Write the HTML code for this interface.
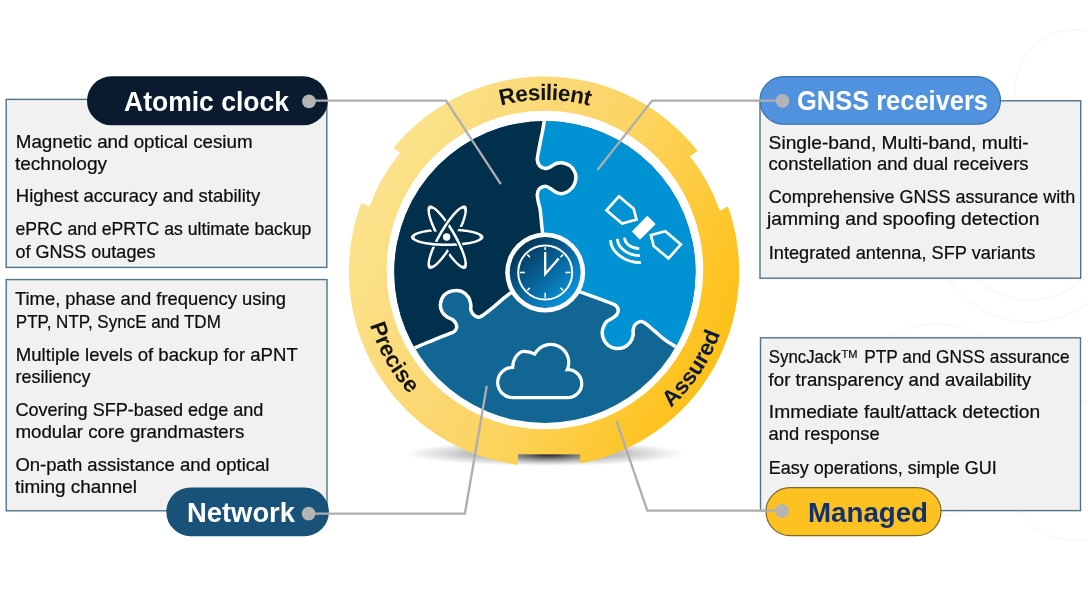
<!DOCTYPE html>
<html><head><meta charset="utf-8">
<style>
html,body{margin:0;padding:0;background:#fff;}
body{width:1088px;height:612px;overflow:hidden;font-family:"Liberation Sans",sans-serif;}
svg{display:block}
text{font-family:"Liberation Sans",sans-serif;}
svg{will-change:transform;}
.b{font-size:18.5px;fill:#0c0c0c;stroke:#0c0c0c;stroke-width:0.22px;}
.h{font-size:27.7px;font-weight:bold;fill:#fff;}
.r{font-size:22.5px;font-weight:bold;fill:#151515;}
</style></head><body>
<svg width="1088" height="612" viewBox="0 0 1088 612">
<defs>
<linearGradient id="gy" gradientUnits="userSpaceOnUse" x1="368.3" y1="188.5" x2="721.7" y2="353.5">
<stop offset="0" stop-color="#FBE28C"/><stop offset="0.082" stop-color="#FBE086"/><stop offset="0.43" stop-color="#FBD66E"/><stop offset="0.59" stop-color="#FCD35C"/><stop offset="0.905" stop-color="#FDC424"/><stop offset="1" stop-color="#FDC019"/>
</linearGradient>
<linearGradient id="gc" gradientUnits="userSpaceOnUse" x1="522" y1="249" x2="568" y2="296">
<stop offset="0" stop-color="#04385B"/><stop offset="1" stop-color="#0A8FD6"/>
</linearGradient>
<radialGradient id="gs" cx="0.5" cy="0.5" r="0.5">
<stop offset="0" stop-color="#000" stop-opacity="0.45"/><stop offset="0.55" stop-color="#000" stop-opacity="0.24"/><stop offset="0.8" stop-color="#000" stop-opacity="0.1"/><stop offset="1" stop-color="#000" stop-opacity="0"/>
</radialGradient>
<radialGradient id="gn" cx="0.5" cy="0.5" r="0.5">
<stop offset="0" stop-color="#111" stop-opacity="0.92"/><stop offset="0.22" stop-color="#2a2a2a" stop-opacity="0.72"/><stop offset="0.5" stop-color="#555" stop-opacity="0.4"/><stop offset="0.8" stop-color="#888" stop-opacity="0.12"/><stop offset="1" stop-color="#999" stop-opacity="0"/>
</radialGradient>
<clipPath id="disc"><ellipse cx="544.9" cy="272" rx="150.6" ry="151"/></clipPath>
<path id="ptop" d="M 374 271 A 171 171 0 0 1 716 271"/>
<path id="pbot" d="M 361.8 271 A 183.2 183.2 0 0 0 728.2 271"/>
<path id="pbot2" d="M 359 271 A 186 186 0 0 0 731 271"/>
</defs>
<rect width="1088" height="612" fill="#fff"/>
<g fill="none" stroke="#F8F8F8" stroke-width="1.6"><circle cx="1030" cy="222" r="100"/><circle cx="1030" cy="222" r="78"/><circle cx="936" cy="420" r="96"/><circle cx="1075" cy="90" r="60"/><circle cx="1075" cy="470" r="70"/></g>
<g fill="#F1F1F1" stroke="#4F7389" stroke-width="1.4">
<rect x="6.2" y="99.4" width="320.6" height="168"/>
<rect x="6.2" y="279.6" width="320.8" height="231.2"/>
<rect x="760" y="100.8" width="320.7" height="177.4"/>
<rect x="760.5" y="337.8" width="320" height="172.8"/>
</g>
<ellipse cx="545" cy="453.5" rx="140" ry="12.5" fill="url(#gs)"/>
<clipPath id="nc"><rect x="517.9" y="454.2" width="62.2" height="16"/></clipPath>
<ellipse cx="549" cy="454.2" rx="66" ry="11" fill="url(#gn)" clip-path="url(#nc)"/>
<path fill="url(#gy)" d="M 517.90 464.92 A 195.1 195.1 0 0 1 361.3 203 L 369.5 206.6 A 184 184 0 0 1 400.2 152.8 L 393.5 147.9 A 195.1 195.1 0 0 1 697.8 151.1 L 689.9 156.3 A 184 184 0 0 1 719.8 210.7 L 728 206.6 A 195.1 195.1 0 0 1 580.10 463.37 L 580.1 454.2 L 517.9 454.2 Z"/>
<ellipse cx="544.9" cy="270" rx="158.3" ry="159.3" fill="#fff"/>
<g clip-path="url(#disc)">
<rect x="390" y="115" width="312" height="314" fill="#116693"/>
<path fill="#00304B" d="M 544.6 110 L 380 110 L 380 351 L 407.00 351.00 C 408.50 350.38 413.00 348.55 416.00 347.30 C 419.00 346.05 421.22 345.08 425.00 343.50 C 428.78 341.92 434.42 339.52 438.70 337.80 C 442.98 336.08 448.12 334.25 450.70 333.20 C 453.28 332.15 453.23 332.35 454.20 331.50 C 455.17 330.65 456.18 329.33 456.50 328.10 C 456.82 326.87 456.68 325.45 456.10 324.10 C 455.52 322.75 454.47 321.15 453.00 320.00 C 451.53 318.85 449.10 318.53 447.30 317.20 C 445.50 315.87 443.35 314.10 442.20 312.00 C 441.05 309.90 440.12 307.37 440.40 304.60 C 440.68 301.83 441.88 297.68 443.90 295.40 C 445.92 293.12 449.55 291.57 452.50 290.90 C 455.45 290.23 458.93 290.35 461.60 291.40 C 464.27 292.45 466.97 295.00 468.50 297.20 C 470.03 299.40 470.42 302.52 470.80 304.60 C 471.18 306.68 470.42 308.08 470.80 309.70 C 471.18 311.32 471.87 313.05 473.10 314.30 C 474.33 315.55 476.48 317.10 478.20 317.20 C 479.92 317.30 480.82 316.62 483.40 314.90 C 485.98 313.18 490.10 309.85 493.70 306.90 C 497.30 303.95 501.45 300.02 505.00 297.20 C 508.55 294.38 508.33 294.37 515.00 290.00 C 521.67 285.63 540.00 274.17 545.00 271.00 L 545.00 271.00 C 544.83 266.67 544.47 251.83 544.00 245.00 C 543.53 238.17 542.83 235.83 542.20 230.00 C 541.57 224.17 540.82 214.52 540.20 210.00 C 539.58 205.48 538.98 205.52 538.50 202.90 C 538.02 200.28 537.12 196.68 537.30 194.30 C 537.48 191.92 538.27 189.93 539.60 188.60 C 540.93 187.27 543.48 186.30 545.30 186.30 C 547.12 186.30 548.78 187.63 550.50 188.60 C 552.22 189.57 553.70 191.23 555.60 192.10 C 557.50 192.97 559.70 194.00 561.90 193.80 C 564.10 193.60 566.80 192.33 568.80 190.90 C 570.80 189.47 572.72 187.38 573.90 185.20 C 575.08 183.02 575.80 180.08 575.90 177.80 C 576.00 175.52 575.50 173.52 574.50 171.50 C 573.50 169.48 571.80 167.13 569.90 165.70 C 568.00 164.27 565.38 163.27 563.10 162.90 C 560.82 162.53 558.30 162.83 556.20 163.50 C 554.10 164.17 552.32 166.05 550.50 166.90 C 548.68 167.75 547.12 168.80 545.30 168.60 C 543.48 168.40 540.93 167.13 539.60 165.70 C 538.27 164.27 537.48 162.38 537.30 160.00 C 537.12 157.62 537.93 154.73 538.50 151.40 C 539.07 148.07 540.02 143.40 540.70 140.00 C 541.38 136.60 542.03 134.03 542.60 131.00 C 543.17 127.97 543.77 124.30 544.10 121.80 C 544.43 119.30 544.52 116.97 544.60 116.00 Z"/>
<path fill="#0192D3" d="M 544.6 110 L 710 110 L 710 352 L 684.00 352.00 C 682.60 351.10 678.77 348.62 675.60 346.60 C 672.43 344.58 668.67 342.63 665.00 339.90 C 661.33 337.17 657.02 333.05 653.60 330.20 C 650.18 327.35 646.78 324.23 644.50 322.80 C 642.22 321.37 641.52 321.23 639.90 321.60 C 638.28 321.97 635.93 323.57 634.80 325.00 C 633.67 326.43 633.38 328.48 633.10 330.20 C 632.82 331.92 633.58 333.30 633.10 335.30 C 632.62 337.30 631.73 340.18 630.20 342.20 C 628.67 344.22 626.28 346.35 623.90 347.40 C 621.52 348.45 618.47 348.80 615.90 348.50 C 613.33 348.20 610.50 347.03 608.50 345.60 C 606.50 344.17 604.95 341.98 603.90 339.90 C 602.85 337.82 602.30 335.20 602.20 333.10 C 602.10 331.00 602.55 329.22 603.30 327.30 C 604.05 325.38 605.17 323.12 606.70 321.60 C 608.23 320.08 610.78 319.43 612.50 318.20 C 614.22 316.97 616.05 315.63 617.00 314.20 C 617.95 312.77 618.38 311.03 618.20 309.60 C 618.02 308.17 617.05 306.65 615.90 305.60 C 614.75 304.55 614.17 304.45 611.30 303.30 C 608.43 302.15 603.08 300.32 598.70 298.70 C 594.32 297.08 589.45 295.30 585.00 293.60 C 580.55 291.90 578.67 292.27 572.00 288.50 C 565.33 284.73 549.50 273.92 545.00 271.00 L 545.00 271.00 C 544.83 266.67 544.47 251.83 544.00 245.00 C 543.53 238.17 542.83 235.83 542.20 230.00 C 541.57 224.17 540.82 214.52 540.20 210.00 C 539.58 205.48 538.98 205.52 538.50 202.90 C 538.02 200.28 537.12 196.68 537.30 194.30 C 537.48 191.92 538.27 189.93 539.60 188.60 C 540.93 187.27 543.48 186.30 545.30 186.30 C 547.12 186.30 548.78 187.63 550.50 188.60 C 552.22 189.57 553.70 191.23 555.60 192.10 C 557.50 192.97 559.70 194.00 561.90 193.80 C 564.10 193.60 566.80 192.33 568.80 190.90 C 570.80 189.47 572.72 187.38 573.90 185.20 C 575.08 183.02 575.80 180.08 575.90 177.80 C 576.00 175.52 575.50 173.52 574.50 171.50 C 573.50 169.48 571.80 167.13 569.90 165.70 C 568.00 164.27 565.38 163.27 563.10 162.90 C 560.82 162.53 558.30 162.83 556.20 163.50 C 554.10 164.17 552.32 166.05 550.50 166.90 C 548.68 167.75 547.12 168.80 545.30 168.60 C 543.48 168.40 540.93 167.13 539.60 165.70 C 538.27 164.27 537.48 162.38 537.30 160.00 C 537.12 157.62 537.93 154.73 538.50 151.40 C 539.07 148.07 540.02 143.40 540.70 140.00 C 541.38 136.60 542.03 134.03 542.60 131.00 C 543.17 127.97 543.77 124.30 544.10 121.80 C 544.43 119.30 544.52 116.97 544.60 116.00 Z"/>
<g fill="none" stroke="#fff" stroke-width="3.5" stroke-linejoin="round">
<path d="M 544.60 116.00 C 544.52 116.97 544.43 119.30 544.10 121.80 C 543.77 124.30 543.17 127.97 542.60 131.00 C 542.03 134.03 541.38 136.60 540.70 140.00 C 540.02 143.40 539.07 148.07 538.50 151.40 C 537.93 154.73 537.12 157.62 537.30 160.00 C 537.48 162.38 538.27 164.27 539.60 165.70 C 540.93 167.13 543.48 168.40 545.30 168.60 C 547.12 168.80 548.68 167.75 550.50 166.90 C 552.32 166.05 554.10 164.17 556.20 163.50 C 558.30 162.83 560.82 162.53 563.10 162.90 C 565.38 163.27 568.00 164.27 569.90 165.70 C 571.80 167.13 573.50 169.48 574.50 171.50 C 575.50 173.52 576.00 175.52 575.90 177.80 C 575.80 180.08 575.08 183.02 573.90 185.20 C 572.72 187.38 570.80 189.47 568.80 190.90 C 566.80 192.33 564.10 193.60 561.90 193.80 C 559.70 194.00 557.50 192.97 555.60 192.10 C 553.70 191.23 552.22 189.57 550.50 188.60 C 548.78 187.63 547.12 186.30 545.30 186.30 C 543.48 186.30 540.93 187.27 539.60 188.60 C 538.27 189.93 537.48 191.92 537.30 194.30 C 537.12 196.68 538.02 200.28 538.50 202.90 C 538.98 205.52 539.58 205.48 540.20 210.00 C 540.82 214.52 541.57 224.17 542.20 230.00 C 542.83 235.83 543.53 238.17 544.00 245.00 C 544.47 251.83 544.83 266.67 545.00 271.00"/>
<path d="M 407.00 351.00 C 408.50 350.38 413.00 348.55 416.00 347.30 C 419.00 346.05 421.22 345.08 425.00 343.50 C 428.78 341.92 434.42 339.52 438.70 337.80 C 442.98 336.08 448.12 334.25 450.70 333.20 C 453.28 332.15 453.23 332.35 454.20 331.50 C 455.17 330.65 456.18 329.33 456.50 328.10 C 456.82 326.87 456.68 325.45 456.10 324.10 C 455.52 322.75 454.47 321.15 453.00 320.00 C 451.53 318.85 449.10 318.53 447.30 317.20 C 445.50 315.87 443.35 314.10 442.20 312.00 C 441.05 309.90 440.12 307.37 440.40 304.60 C 440.68 301.83 441.88 297.68 443.90 295.40 C 445.92 293.12 449.55 291.57 452.50 290.90 C 455.45 290.23 458.93 290.35 461.60 291.40 C 464.27 292.45 466.97 295.00 468.50 297.20 C 470.03 299.40 470.42 302.52 470.80 304.60 C 471.18 306.68 470.42 308.08 470.80 309.70 C 471.18 311.32 471.87 313.05 473.10 314.30 C 474.33 315.55 476.48 317.10 478.20 317.20 C 479.92 317.30 480.82 316.62 483.40 314.90 C 485.98 313.18 490.10 309.85 493.70 306.90 C 497.30 303.95 501.45 300.02 505.00 297.20 C 508.55 294.38 508.33 294.37 515.00 290.00 C 521.67 285.63 540.00 274.17 545.00 271.00"/>
<path d="M 545.00 271.00 C 549.50 273.92 565.33 284.73 572.00 288.50 C 578.67 292.27 580.55 291.90 585.00 293.60 C 589.45 295.30 594.32 297.08 598.70 298.70 C 603.08 300.32 608.43 302.15 611.30 303.30 C 614.17 304.45 614.75 304.55 615.90 305.60 C 617.05 306.65 618.02 308.17 618.20 309.60 C 618.38 311.03 617.95 312.77 617.00 314.20 C 616.05 315.63 614.22 316.97 612.50 318.20 C 610.78 319.43 608.23 320.08 606.70 321.60 C 605.17 323.12 604.05 325.38 603.30 327.30 C 602.55 329.22 602.10 331.00 602.20 333.10 C 602.30 335.20 602.85 337.82 603.90 339.90 C 604.95 341.98 606.50 344.17 608.50 345.60 C 610.50 347.03 613.33 348.20 615.90 348.50 C 618.47 348.80 621.52 348.45 623.90 347.40 C 626.28 346.35 628.67 344.22 630.20 342.20 C 631.73 340.18 632.62 337.30 633.10 335.30 C 633.58 333.30 632.82 331.92 633.10 330.20 C 633.38 328.48 633.67 326.43 634.80 325.00 C 635.93 323.57 638.28 321.97 639.90 321.60 C 641.52 321.23 642.22 321.37 644.50 322.80 C 646.78 324.23 650.18 327.35 653.60 330.20 C 657.02 333.05 661.33 337.17 665.00 339.90 C 668.67 342.63 672.43 344.58 675.60 346.60 C 678.77 348.62 682.60 351.10 684.00 352.00"/>
</g>
</g>
<g id="clock">
<circle cx="545.2" cy="272.5" r="40" fill="#fff"/>
<circle cx="545.2" cy="272.5" r="35.5" fill="url(#gc)"/>
<circle cx="545.2" cy="272.5" r="27" fill="none" stroke="#fff" stroke-width="2"/>
<g stroke="#fff" stroke-width="1.6" stroke-linecap="butt">
<line x1="565.50" y1="272.50" x2="570.40" y2="272.50"/>
<line x1="560.47" y1="287.77" x2="563.02" y2="290.32"/>
<line x1="545.20" y1="292.80" x2="545.20" y2="297.70"/>
<line x1="529.93" y1="287.77" x2="527.38" y2="290.32"/>
<line x1="524.90" y1="272.50" x2="520.00" y2="272.50"/>
<line x1="529.93" y1="257.23" x2="527.38" y2="254.68"/>
<line x1="545.20" y1="250.10" x2="545.20" y2="247.30"/>
<line x1="560.47" y1="257.23" x2="563.02" y2="254.68"/>
</g>
<path d="M 545.2 252 L 545.2 274 L 558.7 258.4" fill="none" stroke="#fff" stroke-width="2.3" stroke-linejoin="miter" stroke-linecap="butt"/>
</g>
<g id="atom" stroke="none">
<path d="M 410.86 237.38 L 410.85 237.13 L 410.87 236.88 L 410.92 236.63 L 411.00 236.39 L 411.11 236.14 L 411.24 235.89 L 411.41 235.65 L 411.60 235.41 L 411.81 235.16 L 412.06 234.92 L 412.33 234.68 L 412.63 234.45 L 412.96 234.21 L 413.31 233.98 L 413.69 233.75 L 414.10 233.52 L 414.53 233.30 L 414.99 233.08 L 415.47 232.86 L 415.98 232.64 L 416.51 232.43 L 417.06 232.22 L 417.64 232.02 L 418.24 231.82 L 418.86 231.63 L 419.51 231.43 L 420.18 231.25 L 420.86 231.07 L 421.57 230.89 L 422.30 230.72 L 423.05 230.55 L 423.82 230.39 L 424.60 230.23 L 425.40 230.08 L 426.22 229.93 L 427.06 229.79 L 427.91 229.66 L 428.78 229.53 L 429.66 229.41 L 430.55 229.29 L 432.24 231.60 L 431.44 231.68 L 430.65 231.77 L 429.87 231.86 L 429.11 231.96 L 428.36 232.05 L 427.62 232.16 L 426.90 232.27 L 426.20 232.38 L 425.51 232.49 L 424.84 232.61 L 424.18 232.73 L 423.55 232.86 L 422.93 232.99 L 422.33 233.12 L 421.75 233.25 L 421.19 233.39 L 420.65 233.53 L 420.13 233.68 L 419.63 233.82 L 419.15 233.97 L 418.70 234.13 L 418.27 234.28 L 417.86 234.44 L 417.47 234.60 L 417.10 234.76 L 416.76 234.92 L 416.45 235.08 L 416.15 235.25 L 415.88 235.42 L 415.64 235.59 L 415.42 235.76 L 415.22 235.93 L 415.05 236.10 L 414.90 236.28 L 414.78 236.45 L 414.69 236.62 L 414.62 236.80 L 414.57 236.97 L 414.55 237.15 L 414.56 237.33 Z" fill="#fff"/>
<path d="M 458.46 228.74 L 459.56 228.83 L 460.64 228.93 L 461.71 229.04 L 462.77 229.16 L 463.81 229.28 L 464.83 229.42 L 465.84 229.56 L 466.82 229.71 L 467.79 229.87 L 468.73 230.03 L 469.66 230.20 L 470.56 230.38 L 471.43 230.57 L 472.28 230.76 L 473.11 230.96 L 473.91 231.16 L 474.68 231.37 L 475.43 231.59 L 476.14 231.82 L 476.83 232.04 L 477.49 232.28 L 478.11 232.52 L 478.71 232.76 L 479.27 233.01 L 479.80 233.26 L 480.29 233.52 L 480.76 233.78 L 481.18 234.04 L 481.58 234.31 L 481.94 234.58 L 482.26 234.85 L 482.55 235.13 L 482.80 235.40 L 483.02 235.68 L 483.20 235.96 L 483.34 236.24 L 483.45 236.53 L 483.52 236.81 L 483.55 237.09 L 483.54 237.38 L 479.84 237.33 L 479.85 237.13 L 479.82 236.92 L 479.76 236.72 L 479.66 236.52 L 479.53 236.32 L 479.37 236.13 L 479.18 235.93 L 478.95 235.73 L 478.69 235.54 L 478.40 235.34 L 478.08 235.15 L 477.73 234.96 L 477.34 234.78 L 476.92 234.59 L 476.48 234.41 L 476.00 234.23 L 475.50 234.06 L 474.96 233.89 L 474.40 233.72 L 473.81 233.55 L 473.20 233.39 L 472.55 233.23 L 471.88 233.08 L 471.19 232.93 L 470.47 232.78 L 469.73 232.64 L 468.97 232.50 L 468.18 232.37 L 467.37 232.25 L 466.54 232.12 L 465.69 232.01 L 464.82 231.90 L 463.94 231.79 L 463.04 231.69 L 462.12 231.60 L 461.18 231.51 L 460.24 231.42 L 459.28 231.35 L 458.30 231.28 L 457.32 231.21 Z" fill="#fff"/>
<path d="M 465.53 268.58 L 465.31 268.71 L 465.09 268.82 L 464.85 268.90 L 464.59 268.95 L 464.33 268.99 L 464.05 268.99 L 463.75 268.97 L 463.45 268.93 L 463.13 268.86 L 462.80 268.77 L 462.45 268.65 L 462.10 268.51 L 461.73 268.35 L 461.35 268.16 L 460.97 267.94 L 460.57 267.71 L 460.16 267.44 L 459.74 267.16 L 459.31 266.85 L 458.87 266.52 L 458.42 266.17 L 457.96 265.79 L 457.49 265.39 L 457.02 264.97 L 456.54 264.53 L 456.05 264.06 L 455.56 263.58 L 455.05 263.07 L 454.55 262.55 L 454.03 262.00 L 453.51 261.44 L 452.99 260.86 L 452.46 260.26 L 451.93 259.64 L 451.39 259.00 L 450.85 258.35 L 450.31 257.68 L 449.77 256.99 L 449.22 256.29 L 448.67 255.58 L 449.83 252.95 L 450.30 253.61 L 450.77 254.25 L 451.24 254.88 L 451.70 255.49 L 452.17 256.09 L 452.62 256.68 L 453.08 257.25 L 453.52 257.80 L 453.97 258.34 L 454.41 258.86 L 454.84 259.37 L 455.27 259.86 L 455.69 260.33 L 456.10 260.78 L 456.51 261.21 L 456.91 261.63 L 457.30 262.03 L 457.69 262.41 L 458.06 262.76 L 458.43 263.10 L 458.79 263.42 L 459.14 263.72 L 459.48 263.99 L 459.81 264.25 L 460.13 264.49 L 460.44 264.70 L 460.75 264.89 L 461.04 265.06 L 461.32 265.21 L 461.59 265.34 L 461.84 265.45 L 462.09 265.53 L 462.32 265.59 L 462.55 265.63 L 462.76 265.65 L 462.96 265.65 L 463.15 265.62 L 463.32 265.57 L 463.48 265.50 L 463.63 265.41 Z" fill="#fff"/>
<path d="M 434.24 231.68 L 433.77 230.68 L 433.32 229.69 L 432.88 228.71 L 432.45 227.74 L 432.04 226.78 L 431.64 225.82 L 431.26 224.88 L 430.90 223.95 L 430.55 223.04 L 430.22 222.14 L 429.91 221.25 L 429.62 220.38 L 429.34 219.53 L 429.08 218.70 L 428.84 217.88 L 428.62 217.09 L 428.41 216.31 L 428.23 215.56 L 428.07 214.83 L 427.92 214.12 L 427.79 213.43 L 427.69 212.77 L 427.60 212.14 L 427.54 211.52 L 427.49 210.94 L 427.46 210.38 L 427.46 209.85 L 427.47 209.35 L 427.51 208.87 L 427.56 208.43 L 427.64 208.01 L 427.73 207.62 L 427.84 207.27 L 427.98 206.94 L 428.13 206.64 L 428.30 206.38 L 428.49 206.15 L 428.71 205.94 L 428.93 205.78 L 429.18 205.64 L 430.99 208.87 L 430.81 208.96 L 430.65 209.09 L 430.51 209.24 L 430.38 209.43 L 430.28 209.64 L 430.18 209.88 L 430.11 210.14 L 430.05 210.44 L 430.01 210.76 L 429.99 211.11 L 429.99 211.48 L 430.00 211.88 L 430.03 212.31 L 430.08 212.76 L 430.15 213.24 L 430.23 213.74 L 430.33 214.26 L 430.45 214.81 L 430.58 215.38 L 430.73 215.98 L 430.90 216.59 L 431.09 217.23 L 431.29 217.88 L 431.50 218.56 L 431.74 219.26 L 431.99 219.97 L 432.25 220.70 L 432.53 221.45 L 432.82 222.21 L 433.13 222.99 L 433.46 223.78 L 433.80 224.59 L 434.15 225.41 L 434.51 226.24 L 434.89 227.08 L 435.28 227.94 L 435.68 228.80 L 436.09 229.67 L 436.52 230.55 L 436.95 231.43 Z" fill="#fff"/>
<path d="M 465.22 205.64 L 465.44 205.76 L 465.64 205.90 L 465.83 206.07 L 466.00 206.26 L 466.16 206.47 L 466.31 206.71 L 466.44 206.98 L 466.56 207.26 L 466.66 207.57 L 466.74 207.91 L 466.81 208.26 L 466.87 208.64 L 466.91 209.04 L 466.93 209.46 L 466.94 209.91 L 466.94 210.37 L 466.91 210.86 L 466.88 211.36 L 466.83 211.89 L 466.76 212.44 L 466.68 213.00 L 466.58 213.59 L 466.47 214.19 L 466.34 214.81 L 466.20 215.45 L 466.04 216.10 L 465.87 216.77 L 465.68 217.46 L 465.48 218.16 L 465.26 218.88 L 465.04 219.61 L 464.79 220.36 L 464.54 221.11 L 464.27 221.88 L 463.98 222.67 L 463.69 223.46 L 463.38 224.27 L 463.06 225.08 L 462.72 225.90 L 462.38 226.74 L 459.53 227.05 L 459.86 226.31 L 460.18 225.58 L 460.49 224.86 L 460.79 224.15 L 461.08 223.45 L 461.36 222.77 L 461.62 222.09 L 461.88 221.42 L 462.12 220.77 L 462.36 220.13 L 462.58 219.50 L 462.79 218.89 L 462.99 218.29 L 463.17 217.70 L 463.34 217.13 L 463.50 216.58 L 463.65 216.04 L 463.79 215.52 L 463.91 215.01 L 464.02 214.52 L 464.11 214.05 L 464.19 213.60 L 464.26 213.17 L 464.32 212.75 L 464.36 212.36 L 464.39 211.98 L 464.41 211.62 L 464.41 211.29 L 464.40 210.97 L 464.38 210.67 L 464.34 210.40 L 464.29 210.14 L 464.23 209.91 L 464.15 209.69 L 464.06 209.50 L 463.96 209.33 L 463.84 209.18 L 463.71 209.05 L 463.57 208.95 L 463.41 208.87 Z" fill="#fff"/>
<path d="M 448.90 251.19 L 448.27 252.09 L 447.64 252.98 L 447.01 253.85 L 446.38 254.70 L 445.75 255.54 L 445.12 256.36 L 444.50 257.16 L 443.88 257.94 L 443.26 258.70 L 442.64 259.43 L 442.03 260.15 L 441.43 260.84 L 440.83 261.50 L 440.24 262.14 L 439.65 262.76 L 439.07 263.35 L 438.50 263.91 L 437.94 264.45 L 437.39 264.96 L 436.85 265.44 L 436.32 265.89 L 435.80 266.31 L 435.29 266.70 L 434.80 267.07 L 434.31 267.40 L 433.84 267.70 L 433.39 267.97 L 432.94 268.21 L 432.51 268.42 L 432.10 268.59 L 431.70 268.74 L 431.32 268.85 L 430.96 268.93 L 430.61 268.98 L 430.27 268.99 L 429.96 268.98 L 429.66 268.93 L 429.38 268.84 L 429.12 268.73 L 428.87 268.58 L 430.77 265.41 L 430.94 265.51 L 431.13 265.59 L 431.33 265.63 L 431.56 265.65 L 431.79 265.64 L 432.04 265.60 L 432.31 265.53 L 432.60 265.43 L 432.89 265.30 L 433.21 265.15 L 433.53 264.97 L 433.87 264.75 L 434.23 264.51 L 434.59 264.25 L 434.97 263.95 L 435.37 263.63 L 435.77 263.28 L 436.19 262.90 L 436.62 262.50 L 437.05 262.07 L 437.50 261.62 L 437.96 261.14 L 438.43 260.64 L 438.91 260.11 L 439.39 259.56 L 439.88 258.99 L 440.38 258.40 L 440.89 257.78 L 441.41 257.14 L 441.93 256.49 L 442.45 255.81 L 442.98 255.11 L 443.51 254.40 L 444.05 253.67 L 444.59 252.92 L 445.14 252.16 L 445.68 251.38 L 446.23 250.58 L 446.78 249.78 L 447.33 248.96 Z" fill="#fff"/>
<path d="M 429.02 205.72 L 429.69 205.47 L 430.45 205.41 L 431.33 205.55 L 432.30 205.89 L 433.36 206.41 L 434.51 207.13 L 435.73 208.03 L 437.03 209.12 L 438.39 210.37 L 439.80 211.79 L 441.26 213.37 L 442.75 215.10 L 444.28 216.96 L 445.82 218.94 L 447.37 221.04 L 448.91 223.24 L 450.45 225.52 L 451.97 227.88 L 453.46 230.29 L 454.91 232.75 L 456.31 235.23 L 457.66 237.73 L 458.94 240.22 L 460.15 242.70 L 461.28 245.14 L 462.32 247.53 L 463.27 249.85 L 464.12 252.10 L 464.86 254.26 L 465.50 256.31 L 466.03 258.25 L 466.43 260.05 L 466.72 261.72 L 466.89 263.23 L 466.94 264.58 L 466.87 265.76 L 466.67 266.77 L 466.36 267.60 L 465.92 268.23 L 465.38 268.68 L 463.52 265.48 L 463.90 265.14 L 464.18 264.63 L 464.35 263.96 L 464.41 263.12 L 464.37 262.12 L 464.22 260.96 L 463.97 259.66 L 463.61 258.22 L 463.16 256.66 L 462.60 254.97 L 461.95 253.17 L 461.21 251.27 L 460.38 249.29 L 459.47 247.23 L 458.49 245.11 L 457.43 242.94 L 456.32 240.74 L 455.14 238.51 L 453.92 236.28 L 452.66 234.05 L 451.36 231.84 L 450.03 229.67 L 448.69 227.54 L 447.34 225.47 L 445.99 223.47 L 444.65 221.56 L 443.32 219.74 L 442.02 218.03 L 440.75 216.44 L 439.51 214.98 L 438.33 213.65 L 437.20 212.47 L 436.13 211.45 L 435.13 210.58 L 434.21 209.87 L 433.36 209.33 L 432.60 208.97 L 431.93 208.78 L 431.35 208.76 L 430.88 208.92 Z" fill="#fff"/>
<path d="M 442.99 224.66 L 443.43 224.00 L 443.87 223.35 L 444.32 222.70 L 444.76 222.07 L 445.21 221.44 L 445.66 220.81 L 446.11 220.20 L 446.56 219.59 L 447.01 218.99 L 447.46 218.40 L 447.91 217.81 L 448.36 217.24 L 450.83 222.12 L 450.48 222.61 L 450.14 223.11 L 449.79 223.62 L 449.44 224.14 L 449.09 224.66 L 448.74 225.19 L 448.39 225.72 L 448.04 226.26 L 447.69 226.80 L 447.34 227.35 L 446.99 227.90 L 446.63 228.46 Z" fill="#00304B"/>
<path d="M 429.02 268.68 L 428.48 268.23 L 428.04 267.60 L 427.73 266.77 L 427.53 265.76 L 427.46 264.58 L 427.51 263.23 L 427.68 261.72 L 427.97 260.05 L 428.37 258.25 L 428.90 256.31 L 429.54 254.26 L 430.28 252.10 L 431.13 249.85 L 432.08 247.53 L 433.12 245.14 L 434.25 242.70 L 435.46 240.22 L 436.74 237.73 L 438.09 235.23 L 439.49 232.75 L 440.94 230.29 L 442.43 227.88 L 443.95 225.52 L 445.49 223.24 L 447.03 221.04 L 448.58 218.94 L 450.12 216.96 L 451.65 215.10 L 453.14 213.37 L 454.60 211.79 L 456.01 210.37 L 457.37 209.12 L 458.67 208.03 L 459.89 207.13 L 461.04 206.41 L 462.10 205.89 L 463.07 205.55 L 463.95 205.41 L 464.71 205.47 L 465.38 205.72 L 463.52 208.92 L 463.05 208.76 L 462.47 208.78 L 461.80 208.97 L 461.04 209.33 L 460.19 209.87 L 459.27 210.58 L 458.27 211.45 L 457.20 212.47 L 456.07 213.65 L 454.89 214.98 L 453.65 216.44 L 452.38 218.03 L 451.08 219.74 L 449.75 221.56 L 448.41 223.47 L 447.06 225.47 L 445.71 227.54 L 444.37 229.67 L 443.04 231.84 L 441.74 234.05 L 440.48 236.28 L 439.26 238.51 L 438.08 240.74 L 436.97 242.94 L 435.91 245.11 L 434.93 247.23 L 434.02 249.29 L 433.19 251.27 L 432.45 253.17 L 431.80 254.97 L 431.24 256.66 L 430.79 258.22 L 430.43 259.66 L 430.18 260.96 L 430.03 262.12 L 429.99 263.12 L 430.05 263.96 L 430.22 264.63 L 430.50 265.14 L 430.88 265.48 Z" fill="#fff"/>
<path d="M 438.45 247.12 L 437.66 247.07 L 436.87 247.01 L 436.09 246.95 L 435.31 246.88 L 434.54 246.81 L 433.78 246.73 L 433.02 246.65 L 432.27 246.56 L 431.52 246.47 L 430.79 246.38 L 430.06 246.28 L 429.34 246.18 L 432.33 241.60 L 432.93 241.65 L 433.53 241.70 L 434.15 241.75 L 434.77 241.79 L 435.39 241.83 L 436.02 241.87 L 436.66 241.91 L 437.30 241.94 L 437.95 241.98 L 438.60 242.01 L 439.25 242.04 L 439.91 242.06 Z" fill="#00304B"/>
<path d="M 483.55 237.20 L 483.44 237.90 L 483.10 238.59 L 482.55 239.28 L 481.77 239.95 L 480.78 240.61 L 479.59 241.24 L 478.19 241.85 L 476.61 242.43 L 474.84 242.98 L 472.90 243.49 L 470.81 243.97 L 468.57 244.40 L 466.19 244.79 L 463.70 245.13 L 461.11 245.42 L 458.43 245.66 L 455.69 245.85 L 452.89 245.99 L 450.05 246.07 L 447.20 246.10 L 444.35 246.07 L 441.51 245.99 L 438.71 245.85 L 435.97 245.66 L 433.29 245.42 L 430.70 245.13 L 428.21 244.79 L 425.83 244.40 L 423.59 243.97 L 421.50 243.49 L 419.56 242.98 L 417.79 242.43 L 416.21 241.85 L 414.81 241.24 L 413.62 240.61 L 412.63 239.95 L 411.85 239.28 L 411.30 238.59 L 410.96 237.90 L 410.85 237.20 L 414.55 237.20 L 414.65 237.69 L 414.95 238.19 L 415.45 238.67 L 416.15 239.15 L 417.04 239.61 L 418.11 240.06 L 419.36 240.49 L 420.79 240.90 L 422.37 241.29 L 424.11 241.65 L 426.00 241.99 L 428.01 242.30 L 430.14 242.57 L 432.38 242.81 L 434.71 243.02 L 437.11 243.19 L 439.58 243.33 L 442.09 243.42 L 444.64 243.48 L 447.20 243.50 L 449.76 243.48 L 452.31 243.42 L 454.82 243.33 L 457.29 243.19 L 459.69 243.02 L 462.02 242.81 L 464.26 242.57 L 466.39 242.30 L 468.40 241.99 L 470.29 241.65 L 472.03 241.29 L 473.61 240.90 L 475.04 240.49 L 476.29 240.06 L 477.36 239.61 L 478.25 239.15 L 478.95 238.67 L 479.45 238.19 L 479.75 237.69 L 479.85 237.20 Z" fill="#fff"/>
<path d="M 460.17 239.82 L 460.52 240.53 L 460.86 241.24 L 461.20 241.95 L 461.53 242.66 L 461.85 243.36 L 462.16 244.06 L 462.47 244.76 L 462.77 245.45 L 463.07 246.14 L 463.36 246.82 L 463.64 247.50 L 463.91 248.18 L 458.45 247.88 L 458.19 247.34 L 457.93 246.79 L 457.66 246.23 L 457.39 245.67 L 457.11 245.11 L 456.83 244.54 L 456.55 243.97 L 456.26 243.40 L 455.96 242.82 L 455.66 242.25 L 455.36 241.66 L 455.06 241.08 Z" fill="#00304B"/>
<path d="M 458.27 238.92 L 458.73 239.82 L 459.18 240.71 L 459.62 241.61 L 460.05 242.50 L 460.47 243.38 L 460.88 244.26 L 461.28 245.14 L 461.66 246.01 L 462.04 246.87 L 462.40 247.73 L 462.75 248.57 L 463.09 249.41 L 460.21 248.89 L 459.89 248.15 L 459.55 247.41 L 459.21 246.65 L 458.85 245.89 L 458.49 245.11 L 458.12 244.34 L 457.74 243.55 L 457.35 242.77 L 456.95 241.97 L 456.54 241.18 L 456.13 240.38 L 455.71 239.57 Z" fill="#fff"/>
<circle cx="446.6" cy="237" r="3.7" fill="#fff"/>
</g>
<g id="sat" fill="none" stroke="#fff" stroke-width="2.7" stroke-linejoin="miter">
<path d="M 618.9 196.3 L 633.7 208.8 L 636.5 219.6 L 622.1 223.5 L 606.5 210.3 Z"/>
<path d="M 668.5 258.4 L 653.7 246.0 L 650.9 235.1 L 665.3 231.3 L 680.9 244.4 Z"/>
<path d="M 647.3 216.8 L 654.6 224.1 L 639.9 238.8 L 632.9 231.5 Z" fill="#fff" stroke-width="1.5" stroke-linejoin="round"/>
<g stroke-width="2.8">
<path d="M 610.47 240.13 C 611.04 251.98 624.53 262.61 640.88 262.61"/>
<path d="M 617.33 238.9 C 617.8 247.9 627.8 255.66 640.07 255.66"/>
<path d="M 624.53 237.67 C 624.86 243.8 631.48 248.7 639.25 248.7"/>
</g>
</g>
<path id="cloud" d="M 512.88 397.59 A 15.10 15.10 0 0 1 512.65 367.38 C 512.65 359.60 518.03 351.36 524.32 351.36 C 528.33 351.36 531.76 352.39 534.82 354.06 A 18.01 18.01 0 0 1 567.25 369.68 A 13.96 13.96 0 1 1 567.80 397.59 Z" fill="none" stroke="#fff" stroke-width="3.2" stroke-linejoin="miter" stroke-miterlimit="4"/>
<text class="r" style="letter-spacing:-0.5px"><textPath href="#ptop" startOffset="50%" text-anchor="middle">Resilient</textPath></text>
<text class="r"><textPath href="#pbot" startOffset="16.5%" text-anchor="middle">Precise</textPath></text>
<text class="r" style="fill:#0B1B3F"><textPath href="#pbot2" startOffset="81.4%" text-anchor="middle">Assured</textPath></text>
<rect x="87" y="76.3" width="240.8" height="49" rx="24.5" fill="#0A1A2F"/>
<rect x="166.3" y="487.4" width="162.6" height="48.8" rx="24.4" fill="#185278"/>
<rect x="760" y="76.6" width="240.5" height="47.6" rx="23.8" fill="#5192DE" stroke="#3A74AE" stroke-width="1.2"/>
<rect x="766" y="487.6" width="175" height="48" rx="24" fill="#FDC221" stroke="#7A6B2A" stroke-width="1.2"/>
<g fill="none" stroke="#AEAEAE" stroke-width="2.3" stroke-linejoin="miter">
<path d="M 309 100.6 L 446.1 100.6 L 500.8 184.1"/>
<path d="M 782 100.6 L 652.2 100.6 L 597.6 169.7"/>
<path d="M 308 513.6 L 464.9 513.6 L 486.8 385.8"/>
<path d="M 782 510.6 L 647.3 510.6 L 616.5 420.8"/>
</g>
<g fill="#B4B4B4">
<circle cx="309" cy="101.3" r="6.9"/><circle cx="308.6" cy="513.6" r="6.9"/>
<circle cx="782.5" cy="100.8" r="6.9"/><circle cx="782" cy="511" r="6.9"/>
</g>
<text class="h" x="124" y="111" textLength="165" lengthAdjust="spacingAndGlyphs">Atomic clock</text>
<text class="h" x="187" y="521.5" textLength="108" lengthAdjust="spacingAndGlyphs">Network</text>
<text class="h" x="797" y="110.1" textLength="191" lengthAdjust="spacingAndGlyphs">GNSS receivers</text>
<text class="h" x="808" y="521.5" textLength="120" lengthAdjust="spacingAndGlyphs" style="fill:#12306A">Managed</text>
<text class="b" x="15.8" y="147.9" textLength="236.8" lengthAdjust="spacingAndGlyphs">Magnetic and optical cesium</text>
<text class="b" x="15.0" y="169.6" textLength="92.0" lengthAdjust="spacingAndGlyphs">technology</text>
<text class="b" x="15.8" y="202.0" textLength="244.4" lengthAdjust="spacingAndGlyphs">Highest accuracy and stability</text>
<text class="b" x="15.4" y="235.2" textLength="296.0" lengthAdjust="spacingAndGlyphs">ePRC and ePRTC as ultimate backup</text>
<text class="b" x="15.4" y="257.7" textLength="140.0" lengthAdjust="spacingAndGlyphs">of GNSS outages</text>
<text class="b" x="15.0" y="305.3" textLength="271.0" lengthAdjust="spacingAndGlyphs">Time, phase and frequency using</text>
<text class="b" x="15.8" y="327.6" textLength="205.0" lengthAdjust="spacingAndGlyphs">PTP, NTP, SyncE and TDM</text>
<text class="b" x="15.8" y="360.5" textLength="282.0" lengthAdjust="spacingAndGlyphs">Multiple levels of backup for aPNT</text>
<text class="b" x="15.4" y="382.6" textLength="75.0" lengthAdjust="spacingAndGlyphs">resiliency</text>
<text class="b" x="15.4" y="416.0" textLength="248.0" lengthAdjust="spacingAndGlyphs">Covering SFP-based edge and</text>
<text class="b" x="15.4" y="437.5" textLength="229.0" lengthAdjust="spacingAndGlyphs">modular core grandmasters</text>
<text class="b" x="15.4" y="471.3" textLength="254.0" lengthAdjust="spacingAndGlyphs">On-path assistance and optical</text>
<text class="b" x="15.0" y="492.8" textLength="122.0" lengthAdjust="spacingAndGlyphs">timing channel</text>
<text class="b" x="768.6" y="148.5" textLength="260.0" lengthAdjust="spacingAndGlyphs">Single-band, Multi-band, multi-</text>
<text class="b" x="768.6" y="170.4" textLength="260.0" lengthAdjust="spacingAndGlyphs">constellation and dual receivers</text>
<text class="b" x="768.8" y="203.0" textLength="306.5" lengthAdjust="spacingAndGlyphs">Comprehensive GNSS assurance with</text>
<text class="b" x="767.0" y="225.4" textLength="272.4" lengthAdjust="spacingAndGlyphs">jamming and spoofing detection</text>
<text class="b" x="768.8" y="258.7" textLength="266.5" lengthAdjust="spacingAndGlyphs">Integrated antenna, SFP variants</text>
<text class="b" x="768.8" y="363.1" textLength="72.0" lengthAdjust="spacingAndGlyphs">SyncJack</text>
<text class="b" x="864.2" y="363.1" textLength="205.4" lengthAdjust="spacingAndGlyphs">PTP and GNSS assurance</text>
<text class="b" x="768.6" y="385.5" textLength="262.4" lengthAdjust="spacingAndGlyphs">for transparency and availability</text>
<text class="b" x="768.8" y="418.0" textLength="271.4" lengthAdjust="spacingAndGlyphs">Immediate fault/attack detection</text>
<text class="b" x="768.6" y="439.6" textLength="111.0" lengthAdjust="spacingAndGlyphs">and response</text>
<text class="b" x="768.8" y="473.7" textLength="228.0" lengthAdjust="spacingAndGlyphs">Easy operations, simple GUI</text>
<text class="b" style="font-size:11.5px" x="841.6" y="358.2" textLength="16" lengthAdjust="spacingAndGlyphs">TM</text>
</svg>
</body></html>
